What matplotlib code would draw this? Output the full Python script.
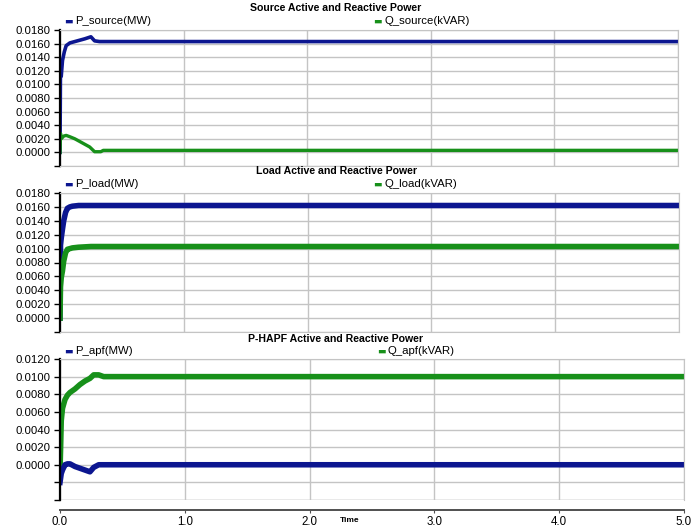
import matplotlib.pyplot as plt
from matplotlib.ticker import FuncFormatter, MultipleLocator

plt.rcParams['font.family'] = ['Liberation Sans', 'DejaVu Sans']

# breakpoints of the simulated traces (time in s)
t_src_p = [0.0, 0.004, 0.010, 0.020, 0.035, 0.05, 0.08, 0.12, 0.16, 0.20, 0.25, 0.28, 0.32, 5.0]
p_source = [0.0, 0.0130, 0.0112, 0.0135, 0.0148, 0.0157, 0.0161, 0.0163, 0.0165, 0.0167, 0.0170, 0.0164, 0.0163, 0.0163]
t_src_q = [0.0, 0.004, 0.010, 0.03, 0.05, 0.08, 0.12, 0.16, 0.20, 0.24, 0.28, 0.33, 0.35, 5.0]
q_source = [0.0, 0.0028, 0.0020, 0.0024, 0.0025, 0.0023, 0.0020, 0.0016, 0.0012, 0.0008, 0.0001, 0.0001, 0.0003, 0.0003]

t_load = [0.0, 0.004, 0.010, 0.020, 0.030, 0.045, 0.06, 0.08, 0.10, 0.15, 0.25, 5.0]
p_load = [0.0, 0.0105, 0.0115, 0.0128, 0.0140, 0.0152, 0.0158, 0.0160, 0.0161, 0.0162, 0.0162, 0.0162]
q_load = [0.0, 0.0045, 0.0058, 0.0068, 0.0082, 0.0094, 0.0099, 0.0100, 0.0101, 0.0102, 0.0103, 0.0103]

t_apf = [0.0, 0.005, 0.010, 0.020, 0.040, 0.060, 0.08, 0.12, 0.16, 0.20, 0.24, 0.27, 0.31, 0.35, 5.0]
q_apf = [-0.0008, 0.0020, 0.0050, 0.0064, 0.0074, 0.0079, 0.0082, 0.0086, 0.0091, 0.0095, 0.0098, 0.0102, 0.0102, 0.0100, 0.0100]
p_apf = [-0.0020, -0.0015, -0.0010, -0.0006, 0.0000, 0.0001, 0.0001, -0.0002, -0.0004, -0.0006, -0.0008, -0.0003, 0.0000, 0.0000, 0.0000]

BLUE = '#0c1690'
GREEN = '#17901a'
W, H = 694, 528

fig = plt.figure(figsize=(6.94, 5.28), dpi=100)


def px_axes(top, bottom, left=60, right=681):
    return fig.add_axes([left / W, 1 - bottom / H, (right - left) / W, (bottom - top) / H])


def style(ax, ymin, ymax, last=False):
    ax.set_xlim(0, 5)
    ax.set_ylim(ymin, ymax)
    ax.yaxis.set_major_locator(MultipleLocator(0.002))
    ax.xaxis.set_major_locator(MultipleLocator(1.0))
    ax.yaxis.set_major_formatter(FuncFormatter(lambda v, p: f'{v:.4f}' if v > -1e-9 else ''))
    ax.grid(True, color='#c4c4c4', linewidth=1.0)
    ax.set_axisbelow(True)
    for s in ('top', 'right', 'bottom'):
        ax.spines[s].set_color('#c4c4c4')
    ax.spines['left'].set_color('black')
    ax.spines['left'].set_linewidth(1.6)
    ax.tick_params(axis='y', length=4, width=1, color='black', labelsize=8.2, pad=3)
    if last:
        # time axis sits a little below the plot frame
        ax.spines['bottom'].set_position(('outward', 7))
        ax.spines['bottom'].set_color('#505050')
        ax.spines['bottom'].set_linewidth(1.4)
        ax.axhline(ymin, color='#c4c4c4', linewidth=1.0, zorder=0)
        ax.xaxis.set_major_formatter(FuncFormatter(lambda v, p: f'{v:.1f}'))
        ax.tick_params(axis='x', length=2.5, color='#505050', labelsize=8.3, pad=1.8)
    else:
        ax.tick_params(axis='x', length=0, labelbottom=False)


def header(title, y_title, label1, label2, y_leg, x2=373):
    fig.text(336 / W, 1 - y_title / H, title, ha='center', va='center',
             fontsize=7.6, fontweight='bold')
    for x, lab, col in ((64, label1, BLUE), (x2, label2, GREEN)):
        fig.text(x / W, 1 - y_leg / H, '\u25ac', color=col, ha='left', va='center', fontsize=6.5,
                 family=['DejaVu Sans'])
        fig.text((x + 11) / W, 1 - y_leg / H, lab, ha='left', va='center', fontsize=8.2)


# Source
ax1 = px_axes(30, 166, right=678)
ax1.plot(t_src_p, p_source, color=BLUE, linewidth=2.6)
ax1.plot(t_src_q, q_source, color=GREEN, linewidth=2.4)
style(ax1, -0.002, 0.018)
header('Source Active and Reactive Power', 8, 'P_source(MW)', 'Q_source(kVAR)', 21)

# Load
ax2 = px_axes(193, 332, right=679)
ax2.plot(t_load, p_load, color=BLUE, linewidth=4)
ax2.plot(t_load, q_load, color=GREEN, linewidth=4)
style(ax2, -0.002, 0.018)
header('Load Active and Reactive Power', 171, 'P_load(MW)', 'Q_load(kVAR)', 184)

# P-HAPF
ax3 = px_axes(359, 500, right=684)
ax3.plot(t_apf, q_apf, color=GREEN, linewidth=4)
ax3.plot(t_apf, p_apf, color=BLUE, linewidth=4)
style(ax3, -0.004, 0.012, last=True)
header('P-HAPF Active and Reactive Power', 339, 'P_apf(MW)', 'Q_apf(kVAR)', 351, x2=377)

fig.text(350 / W, 1 - 521 / H, 'Time', ha='center', va='center', fontsize=6, fontweight='bold')

fig.savefig('out.png', dpi=100)
